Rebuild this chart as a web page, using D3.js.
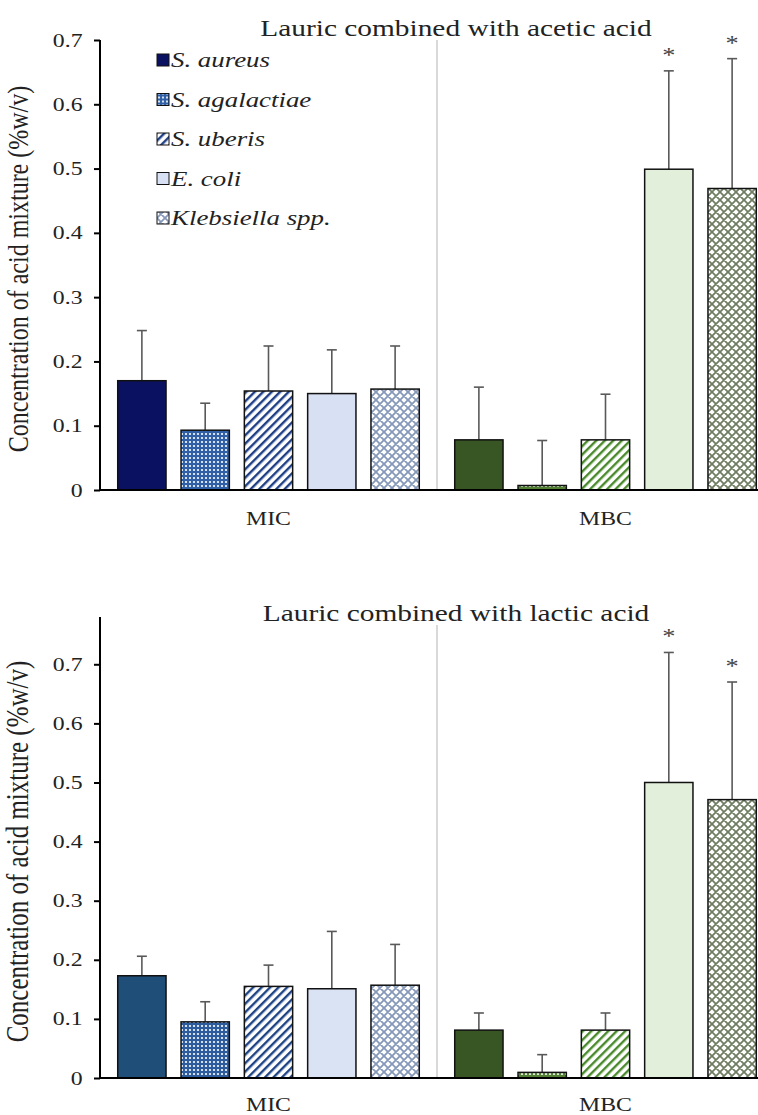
<!DOCTYPE html>
<html>
<head>
  <meta charset="utf-8">
  <title>Lauric acid combinations - MIC and MBC</title>
  <script src="https://d3js.org/d3.v7.min.js"></script>
  <style>
    body { margin: 0; background: #fff; }
    svg text { font-family: "Liberation Serif", "Times New Roman", serif; }
    .axis path, .axis line { stroke: #000; stroke-width: 2; }
    .axis text { font-size: 19px; fill: #222; font-family: "Liberation Serif", "Times New Roman", serif; }
  </style>
</head>
<body>
<div id="chart"></div>
<script>

// data
const species = ["S. aureus", "S. agalactiae", "S. uberis", "E. coli", "Klebsiella spp."];
const groups = ["MIC", "MBC"];
const yTicks = [0, 0.1, 0.2, 0.3, 0.4, 0.5, 0.6, 0.7];

const aceticMIC    = [0.170, 0.093, 0.154, 0.150, 0.157];
const aceticMICerr = [0.078, 0.042, 0.070, 0.068, 0.067];
const aceticMBC    = [0.078, 0.007, 0.078, 0.499, 0.469];
const aceticMBCerr = [0.082, 0.070, 0.071, 0.153, 0.202];

const lacticMIC    = [0.173, 0.095, 0.155, 0.151, 0.157];
const lacticMICerr = [0.033, 0.034, 0.036, 0.097, 0.069];
const lacticMBC    = [0.081, 0.0095, 0.081, 0.500, 0.471];
const lacticMBCerr = [0.029, 0.030, 0.029, 0.220, 0.199];

const significant = [false, false, false, true, true]; // asterisk on MBC bars

// the original image is stretched sideways, text too
const SX = 1.25;
const SERIF = "'Liberation Serif', 'Times New Roman', serif";

let width = 758,
    height = 1115;

let svg = d3.select("#chart").append("svg")
    .attr("width", width)
    .attr("height", height)
    .style("display", "block");

let defs = svg.append("defs");

// fill styles per species: solid, dots, stripes, light, lattice
const palettes = {
  topMIC: ["#0a1160", "#2f5fa6", "#1f3f86", "#d7e1f3", "#8698b9"],
  botMIC: ["#1f4e79", "#2d5c9e", "#1f4486", "#dae3f3", "#8698b9"],
  MBC:    ["#375623", "#548235", "#4a8a2c", "#e2efda", "#6f7d63"]
};

function makePatterns(key) {
  const c = palettes[key];

  let dots = defs.append("pattern")
      .attr("id", key + "-dots")
      .attr("patternUnits", "userSpaceOnUse")
      .attr("width", 4).attr("height", 4);
  dots.append("rect").attr("width", 4).attr("height", 4).attr("fill", c[1]);
  dots.append("circle").attr("cx", 2).attr("cy", 2).attr("r", 1.1).attr("fill", "#fff");

  let stripes = defs.append("pattern")
      .attr("id", key + "-stripes")
      .attr("patternUnits", "userSpaceOnUse")
      .attr("width", 6).attr("height", 6)
      .attr("patternTransform", "rotate(-45)");
  stripes.append("rect").attr("width", 6).attr("height", 6).attr("fill", "#fff");
  stripes.append("rect").attr("width", 6).attr("height", 2.4).attr("fill", c[2]);

  let lattice = defs.append("pattern")
      .attr("id", key + "-lattice")
      .attr("patternUnits", "userSpaceOnUse")
      .attr("width", 8).attr("height", 8);
  lattice.append("rect").attr("width", 8).attr("height", 8).attr("fill", "#fff");
  lattice.append("path")
      .attr("d", "M0,0L8,8M0,8L8,0M-2,2L2,-2M6,10L10,6M-2,6L2,10M6,-2L10,2")
      .attr("stroke", c[4]).attr("stroke-width", 1.8);

  return [c[0], "url(#" + key + "-dots)", "url(#" + key + "-stripes)", c[3], "url(#" + key + "-lattice)"];
}

const fills = {
  topMIC: makePatterns("topMIC"),
  botMIC: makePatterns("botMIC"),
  MBC: makePatterns("MBC")
};

// text stretched horizontally like the source image
function sText(parent, x, y, str, size, anchor) {
  return parent.append("text")
      .attr("transform", "translate(" + x + "," + y + ") scale(" + SX + ",1)")
      .attr("text-anchor", anchor || "middle")
      .attr("font-family", SERIF)
      .style("font-size", size + "px")
      .attr("fill", "#222")
      .text(str);
}

let xGroup = d3.scaleBand()
    .domain(groups)
    .range([100, 774]);

let xSpecies = d3.scaleBand()
    .domain(species)
    .range([0, xGroup.bandwidth()])
    .paddingInner(0.237)
    .paddingOuter(0.28);

const panels = [
  { title: "Lauric combined with acetic acid", titleY: 36, top: 40, bottom: 490, yMax: 0.7, sepTop: 40,
    ylabelSize: 24, mic: aceticMIC, micErr: aceticMICerr, mbc: aceticMBC, mbcErr: aceticMBCerr,
    micFill: fills.topMIC, legend: true, catY: 525 },
  { title: "Lauric combined with lactic acid", titleY: 621, top: 617, bottom: 1078, yMax: 0.78, sepTop: 625,
    ylabelSize: 25, mic: lacticMIC, micErr: lacticMICerr, mbc: lacticMBC, mbcErr: lacticMBCerr,
    micFill: fills.botMIC, legend: false, catY: 1111 }
];

panels.forEach(function(p) {
  let g = svg.append("g");

  let y = d3.scaleLinear()
      .domain([0, p.yMax])
      .range([p.bottom, p.top]);

  // separator between MIC and MBC
  g.append("line")
      .attr("x1", xGroup("MBC")).attr("x2", xGroup("MBC"))
      .attr("y1", p.sepTop).attr("y2", p.bottom)
      .attr("stroke", "#d9d9d9").attr("stroke-width", 2);

  // title
  sText(g, 456, p.titleY, p.title, 23.5, "middle");

  const sets = [
    { group: "MIC", vals: p.mic, errs: p.micErr, fill: p.micFill, stars: false },
    { group: "MBC", vals: p.mbc, errs: p.mbcErr, fill: fills.MBC, stars: true }
  ];

  sets.forEach(function(s) {
    let rows = species.map(function(sp, i) {
      return { sp: sp, v: s.vals[i], e: s.errs[i], fill: s.fill[i], star: s.stars && significant[i] };
    });
    let gx = xGroup(s.group);

    // error bars (upper only)
    let eb = g.append("g").selectAll("g")
        .data(rows)
      .enter().append("g")
        .attr("stroke", "#595959")
        .attr("stroke-width", 1.6);
    eb.append("line")
        .attr("x1", d => gx + xSpecies(d.sp) + xSpecies.bandwidth() / 2)
        .attr("x2", d => gx + xSpecies(d.sp) + xSpecies.bandwidth() / 2)
        .attr("y1", d => y(d.v))
        .attr("y2", d => y(d.v + d.e));
    eb.append("line")
        .attr("x1", d => gx + xSpecies(d.sp) + xSpecies.bandwidth() / 2 - 5)
        .attr("x2", d => gx + xSpecies(d.sp) + xSpecies.bandwidth() / 2 + 5)
        .attr("y1", d => y(d.v + d.e))
        .attr("y2", d => y(d.v + d.e));

    // bars
    g.append("g").selectAll("rect")
        .data(rows)
      .enter().append("rect")
        .attr("x", d => gx + xSpecies(d.sp))
        .attr("y", d => y(d.v))
        .attr("width", xSpecies.bandwidth())
        .attr("height", d => y(0) - y(d.v))
        .attr("fill", d => d.fill)
        .attr("stroke", "#111")
        .attr("stroke-width", 1.5);

    // asterisks
    rows.filter(d => d.star).forEach(function(d) {
      sText(g, gx + xSpecies(d.sp) + xSpecies.bandwidth() / 2, y(d.v + d.e) - 9, "*", 21, "middle")
          .attr("fill", "#444");
    });

    // category label
    sText(g, gx + xGroup.bandwidth() / 2, p.catY, s.group, 19, "middle");
  });

  // y axis
  let yAxis = d3.axisLeft(y)
      .tickValues(yTicks)
      .tickSize(6)
      .tickPadding(8)
      .tickFormat(d => d === 0 ? "0" : d.toFixed(1));

  let ax = g.append("g")
      .attr("class", "axis")
      .attr("transform", "translate(100,0)")
      .call(yAxis)
      .attr("font-family", SERIF);
  ax.select(".domain").attr("d", "M0," + p.top + "V" + p.bottom);
  ax.selectAll(".tick text").attr("transform", "scale(" + SX + ",1)");

  // x axis line
  g.append("line")
      .attr("x1", 99).attr("x2", 774)
      .attr("y1", p.bottom).attr("y2", p.bottom)
      .attr("stroke", "#000").attr("stroke-width", 2);

  // y label
  g.append("text")
      .attr("transform", "translate(28," + ((p.top + p.bottom) / 2 + 4) + ") scale(" + SX + ",1) rotate(-90)")
      .attr("text-anchor", "middle")
      .attr("font-family", SERIF)
      .style("font-size", p.ylabelSize + "px")
      .attr("fill", "#222")
      .text("Concentration of acid mixture (%w/v)");

  // legend
  if (p.legend) {
    let lg = g.append("g").selectAll("g")
        .data(species)
      .enter().append("g")
        .attr("transform", (d, i) => "translate(157," + (60 + i * 39.5) + ")");
    lg.append("rect")
        .attr("x", 0).attr("y", -6)
        .attr("width", 12).attr("height", 12)
        .attr("fill", (d, i) => p.micFill[i])
        .attr("stroke", "#111").attr("stroke-width", 1);
    lg.each(function(d) {
      sText(d3.select(this), 14, 7, d, 21.5, "start").style("font-style", "italic");
    });
  }
});

</script>
</body>
</html>
